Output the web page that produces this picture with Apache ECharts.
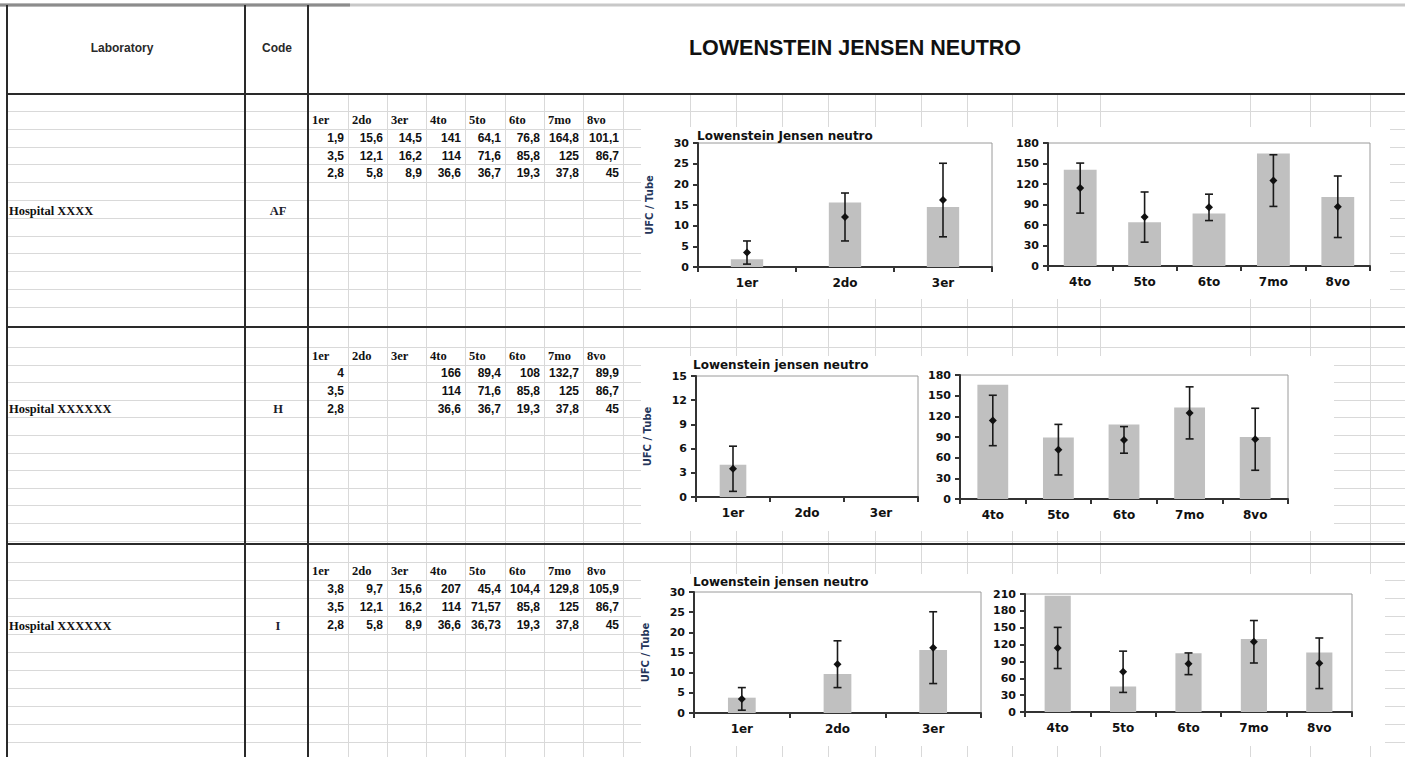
<!DOCTYPE html>
<html><head><meta charset="utf-8">
<script src="https://cdn.jsdelivr.net/npm/echarts@6/dist/echarts.min.js"></script>
<style>html,body{margin:0;padding:0;background:#fff;}#c{width:1405px;height:757px;}</style>
</head><body><div id="c"></div>
<script>
// ---------- data ----------
const stages = ['1er','2do','3er','4to','5to','6to','7mo','8vo'];
const earlyStages = ['1er','2do','3er'];
const lateStages = ['4to','5to','6to','7mo','8vo'];
const headerTexts = ['Laboratory','Code','LOWENSTEIN JENSEN NEUTRO'];
const labNames = ['Hospital XXXX','Hospital XXXXXX','Hospital XXXXXX'];
const labCodes = ['AF','H','I'];
const chartTitles = ['Lowenstein Jensen neutro','Lowenstein jensen neutro','Lowenstein jensen neutro'];
const yAxisName = 'UFC / Tube';
const labAF = [1.9,15.6,14.5,141,64.1,76.8,164.8,101.1];
const labH  = [4,null,null,166,89.4,108,132.7,89.9];
const labI  = [3.8,9.7,15.6,207,45.4,104.4,129.8,105.9];
const meanAF = [3.5,12.1,16.2,114,71.6,85.8,125,86.7];
const meanH  = [3.5,null,null,114,71.6,85.8,125,86.7];
const meanI  = [3.5,12.1,16.2,114,71.57,85.8,125,86.7];
const sdAF = [2.8,5.8,8.9,36.6,36.7,19.3,37.8,45];
const sdH  = [2.8,null,null,36.6,36.7,19.3,37.8,45];
const sdI  = [2.8,5.8,8.9,36.6,36.73,19.3,37.8,45];
const earlyMax = [30,15,30], earlyInterval = [5,3,5];
const lateMax = [180,180,210], lateInterval = [30,30,30];

// ---------- layout ----------
const labs = [
  {lab:labAF, mean:meanAF, sd:sdAF},
  {lab:labH, mean:meanH, sd:sdH},
  {lab:labI, mean:meanI, sd:sdI}
];
const sections = [
  {top:94, bottom:327, rowStart:111, rowStep:17.8, nameY:211,
   cover:{x:641,y:127,w:749,h:172},
   gE:{left:698,top:143,width:294,height:124}, gL:{left:1048,top:143,width:322,height:123},
   bwE:'33%', bwL:'51%', titleX:697, titleY:136},
  {top:327, bottom:544, rowStart:347, rowStep:17.6, nameY:409,
   cover:{x:641,y:356,w:693,h:175},
   gE:{left:696,top:376,width:222,height:121}, gL:{left:960,top:375,width:328,height:124},
   bwE:'36%', bwL:'47%', titleX:693, titleY:365},
  {top:544, bottom:757, rowStart:562, rowStep:18, nameY:626,
   cover:{x:641,y:574,w:744,h:172},
   gE:{left:694,top:592,width:287,height:121}, gL:{left:1025,top:594,width:327,height:118},
   bwE:'29%', bwL:'40%', titleX:693, titleY:582}
];
const colX = [348,387,426,465,505,544,583,623,690,736,782,828,875,921,967,1012,1057,1100,1250,1310,1370];
const tableCols = [308,348,387,426,465,505,544,583,623];

const fmt = v => (v===null||v===undefined) ? '' : String(v).replace('.', ',');

const graphic = [];
const GL = '#d9d9d9';
function line(x1,y1,x2,y2,stroke,w,z){graphic.push({type:'line',z:z,silent:true,shape:{x1,y1,x2,y2},style:{stroke,lineWidth:w}});}
function text(t,x,y,font,align,fill,z){graphic.push({type:'text',z:z||20,silent:true,x:x,y:y,style:{text:t,font:font,fill:fill||'#111',textAlign:align||'left',textVerticalAlign:'middle'}});}

// top line
line(0,5,1405,5,'#c8c8c8',3,1);
line(0,5,350,5,'#8c8c8c',3,2);

sections.forEach((s,si)=>{
  for(let y=s.rowStart; y<s.bottom-3; y+=s.rowStep){ line(7,Math.round(y)+0.5,1405,Math.round(y)+0.5,GL,1,1); }
  colX.forEach(x=>line(x+0.5,s.top,x+0.5,s.bottom,GL,1,1));
  graphic.push({type:'rect',z:3,silent:true,shape:{x:s.cover.x,y:s.cover.y,width:s.cover.w,height:s.cover.h},style:{fill:'#fff'}});
  const hy = s.rowStart + s.rowStep/2;
  stages.forEach((st,i)=>{
    text(st, tableCols[i]+4, hy, 'bold 12.5px "Liberation Serif", serif','left','#111');
    const rows=[labs[si].lab, labs[si].mean, labs[si].sd];
    rows.forEach((r,ri)=>{
      text(fmt(r[i]), tableCols[i+1]-4, hy + s.rowStep*(ri+1), 'bold 12px "Liberation Sans Narrow","Liberation Sans",sans-serif','right','#111');
    });
  });
  text(labNames[si], 9, s.nameY, 'bold 12.5px "Liberation Serif", serif','left','#111');
  text(labCodes[si], 278, s.nameY, 'bold 12.5px "Liberation Serif", serif','center','#1c1c2c');
  text(chartTitles[si], s.titleX, s.titleY, 'bold 12px "DejaVu Sans", sans-serif','left','#111');
});

[7,245,308].forEach(x=>line(x,5,x,757,'#2a2a2a',2,10));
[94,327,544].forEach(y=>line(7,y,1405,y,'#2a2a2a',2,10));
text(headerTexts[0],122,48,'bold 12px "Liberation Sans", Arial, sans-serif','center','#2a2a2a');
text(headerTexts[1],277,48,'bold 12px "Liberation Sans", Arial, sans-serif','center','#2a2a2a');
text(headerTexts[2],855,48,'bold 21.5px "Liberation Sans", Arial, sans-serif','center','#111');

// ---------- charts ----------
const grids=[], xAxes=[], yAxes=[], series=[];
function addChart(g, cats, vals, means, sds, max, interval, bw, withName){
  const idx = grids.length;
  grids.push({left:g.left, top:g.top, width:g.width, height:g.height, show:true, borderColor:'#9a9a9a', borderWidth:1, backgroundColor:'transparent', z:4});
  xAxes.push({type:'category', gridIndex:idx, data:cats, boundaryGap:true, z:6,
    axisLine:{lineStyle:{color:'#333',width:2}},
    axisTick:{show:true, alignWithLabel:false, length:5, lineStyle:{color:'#333',width:2}},
    axisLabel:{color:'#111', fontFamily:'"DejaVu Sans", sans-serif', fontWeight:'bold', fontSize:12, margin:10}});
  yAxes.push({type:'value', gridIndex:idx, min:0, max:max, interval:interval, z:6,
    name: withName ? yAxisName : '', nameLocation:'middle', nameGap:44, nameRotate:90,
    nameTextStyle:{color:'#25355a', fontFamily:'"DejaVu Sans", sans-serif', fontWeight:'bold', fontSize:10},
    splitLine:{show:false},
    axisLine:{show:true, lineStyle:{color:'#333',width:2}},
    axisTick:{show:true, length:5, lineStyle:{color:'#333',width:2}},
    axisLabel:{color:'#111', fontFamily:'"DejaVu Sans", sans-serif', fontWeight:'bold', fontSize:11, margin:9}});
  series.push({type:'bar', xAxisIndex:idx, yAxisIndex:idx, data:vals, barWidth:bw, z:7,
    itemStyle:{color:'#c0c0c0'}, silent:true, animation:false});
  const eb = [];
  means.forEach((m,i)=>{ if(m!==null && sds[i]!==null) eb.push([i, m, sds[i]]); });
  series.push({type:'custom', xAxisIndex:idx, yAxisIndex:idx, data:eb, z:8, silent:true, animation:false, clip:false,
    renderItem:(params, api)=>{
      const c = api.value(0), m = api.value(1), sd = api.value(2);
      const pt = api.coord([c, m]);
      const hi = api.coord([c, m+sd]);
      const lo = api.coord([c, m-sd]);
      const cap = 4, d = 4;
      const st = {stroke:'#1a1a1a', lineWidth:1.6};
      return {type:'group', children:[
        {type:'line', shape:{x1:pt[0],y1:hi[1],x2:pt[0],y2:lo[1]}, style:st},
        {type:'line', shape:{x1:pt[0]-cap,y1:hi[1],x2:pt[0]+cap,y2:hi[1]}, style:st},
        {type:'line', shape:{x1:pt[0]-cap,y1:lo[1],x2:pt[0]+cap,y2:lo[1]}, style:st},
        {type:'polygon', shape:{points:[[pt[0],pt[1]-d],[pt[0]+d,pt[1]],[pt[0],pt[1]+d],[pt[0]-d,pt[1]]]}, style:{fill:'#111'}}
      ]};
    }});
}
sections.forEach((s,si)=>{
  const L = labs[si];
  addChart(s.gE, earlyStages, L.lab.slice(0,3), L.mean.slice(0,3), L.sd.slice(0,3), earlyMax[si], earlyInterval[si], s.bwE, true);
  addChart(s.gL, lateStages, L.lab.slice(3), L.mean.slice(3), L.sd.slice(3), lateMax[si], lateInterval[si], s.bwL, false);
});

const chart = echarts.init(document.getElementById('c'), null, {renderer:'svg'});
chart.setOption({
  animation:false,
  backgroundColor:'#fff',
  graphic:{elements:graphic},
  grid:grids, xAxis:xAxes, yAxis:yAxes, series:series
});
</script></body></html>
